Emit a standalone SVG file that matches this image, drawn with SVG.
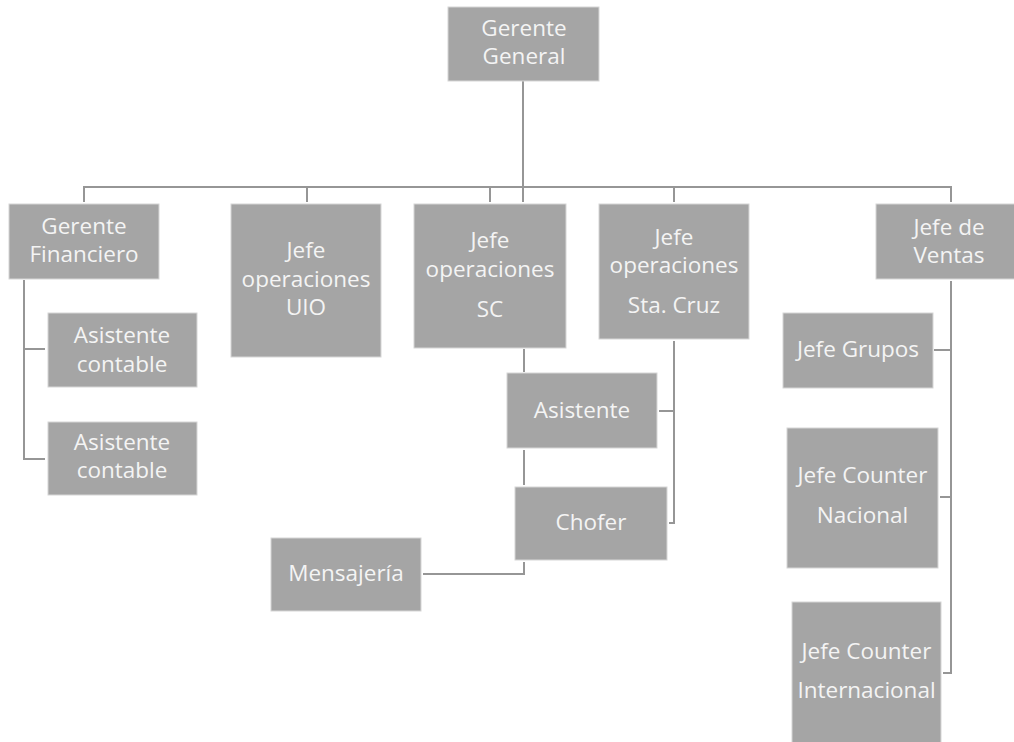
<svg xmlns="http://www.w3.org/2000/svg" width="1014" height="742" viewBox="0 0 1014 742">
<style>
.box{fill:#a5a5a5;stroke:#d6d6d6;stroke-width:1}
.t{font-family:"Open Sans","Noto Sans",sans-serif;font-size:22.5px;fill:#f4f4f4;text-anchor:middle}
.c{fill:none;stroke:#969696;stroke-width:2}
</style>
<rect width="1014" height="742" fill="#ffffff"/>
<g id="connectors">
<path class="c" d="M523,81 V202"/>
<path class="c" d="M84,202 V187 H951 V202"/>
<path class="c" d="M307,187 V202"/>
<path class="c" d="M490,187 V202"/>
<path class="c" d="M674,187 V202"/>
<path class="c" d="M24,280 V459 H45"/>
<path class="c" d="M24,349 H45"/>
<path class="c" d="M524,349 V372"/>
<path class="c" d="M524,450 V485"/>
<path class="c" d="M524,562 V574 H423"/>
<path class="c" d="M674,341 V523 H669"/>
<path class="c" d="M674,411 H659"/>
<path class="c" d="M951,281 V673 H943"/>
<path class="c" d="M951,350 H934"/>
<path class="c" d="M951,497 H940"/>
</g>
<g id="gerente-general"><rect class="box" x="448" y="7" width="151" height="74"/><text class="t" x="524" y="36">Gerente</text><text class="t" x="524" y="64">General</text></g>
<g id="gerente-financiero"><rect class="box" x="9" y="204" width="150" height="75"/><text class="t" x="84" y="234">Gerente</text><text class="t" x="84" y="262">Financiero</text></g>
<g id="jefe-uio"><rect class="box" x="231" y="204" width="150" height="153"/><text class="t" x="306" y="258">Jefe</text><text class="t" x="306" y="287">operaciones</text><text class="t" x="306" y="315">UIO</text></g>
<g id="jefe-sc"><rect class="box" x="414" y="204" width="152" height="144"/><text class="t" x="490" y="248">Jefe</text><text class="t" x="490" y="277">operaciones</text><text class="t" x="490" y="317">SC</text></g>
<g id="jefe-sta-cruz"><rect class="box" x="599" y="204" width="150" height="135"/><text class="t" x="674" y="245">Jefe</text><text class="t" x="674" y="273">operaciones</text><text class="t" x="674" y="313">Sta. Cruz</text></g>
<g id="jefe-ventas"><rect class="box" x="876" y="204" width="146" height="75"/><text class="t" x="949" y="235">Jefe de</text><text class="t" x="949" y="263">Ventas</text></g>
<g id="asistente-contable-1"><rect class="box" x="48" y="313" width="149" height="74"/><text class="t" x="122" y="343">Asistente</text><text class="t" x="122" y="372">contable</text></g>
<g id="asistente-contable-2"><rect class="box" x="48" y="422" width="149" height="73"/><text class="t" x="122" y="450">Asistente</text><text class="t" x="122" y="478">contable</text></g>
<g id="asistente"><rect class="box" x="507" y="373" width="150" height="75"/><text class="t" x="582" y="418">Asistente</text></g>
<g id="chofer"><rect class="box" x="515" y="487" width="152" height="73"/><text class="t" x="591" y="530">Chofer</text></g>
<g id="mensajeria"><rect class="box" x="271" y="538" width="150" height="73"/><text class="t" x="346" y="581">Mensajería</text></g>
<g id="jefe-grupos"><rect class="box" x="783" y="313" width="150" height="75"/><text class="t" x="858" y="357">Jefe Grupos</text></g>
<g id="jefe-counter-nacional"><rect class="box" x="787" y="428" width="151" height="140"/><text class="t" x="862.5" y="483">Jefe Counter</text><text class="t" x="862.5" y="523">Nacional</text></g>
<g id="jefe-counter-internacional"><rect class="box" x="792" y="602" width="149" height="150"/><text class="t" x="866.5" y="659">Jefe Counter</text><text class="t" x="866.5" y="698">Internacional</text></g>
</svg>
